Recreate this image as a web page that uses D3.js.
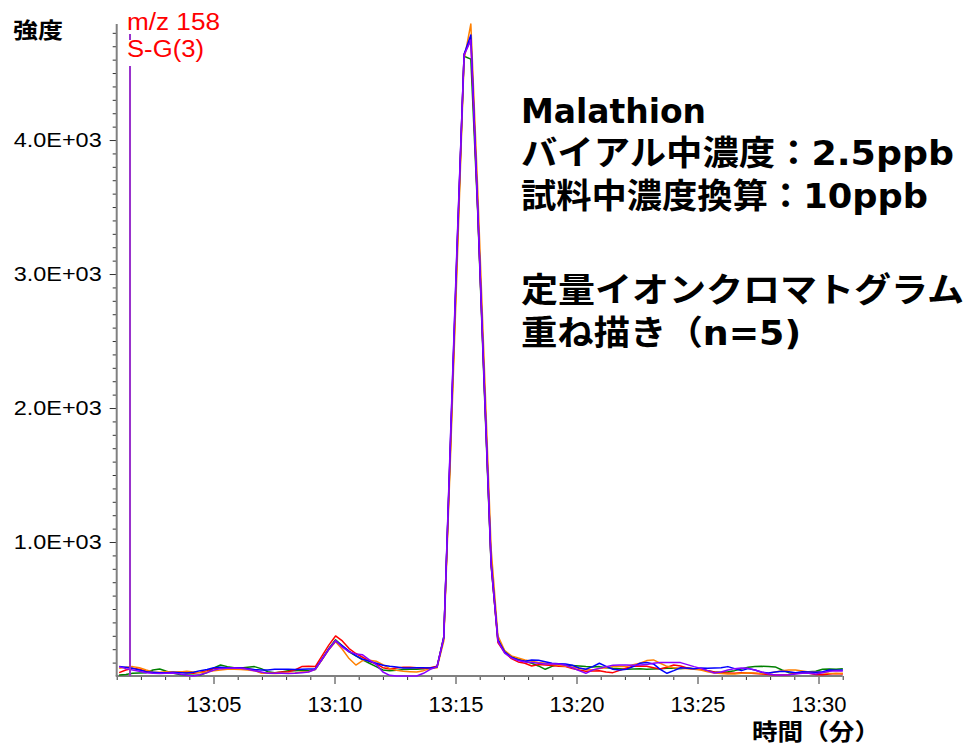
<!DOCTYPE html>
<html lang="ja">
<head>
<meta charset="utf-8">
<script src="https://cdn.jsdelivr.net/npm/d3@7"></script>
<style>
  html, body { margin: 0; padding: 0; background: #fff; }
  svg { display: block; }
</style>
</head>
<body>
<svg id="chart" width="973" height="746"></svg>
<script>
// Quantitation-ion chromatograms (m/z 158), five overlaid injections of Malathion.
// Retention time in minutes of the day (13:01 = 781), intensity in counts.
const scanStart = 781.1;      // first scan, 13:01.1
const scanInterval = 0.2795;  // minutes between scans
const timeRange = [781, 811]; // 13:01 – 13:31

const seriesNames = ["run1", "run2", "run3", "run4", "run5"];
const seriesColors = ["#008000", "#ff0000", "#ff8000", "#0000ff", "#8a00ff"];

const run1 = [ // green
  7, 12, 20, 22, 25, 45, 52, 35, 20, 12,
  8, 5, 8, 25, 60, 82, 70, 62, 60, 65,
  70, 55, 32, 25, 30, 40, 40, 42, 40, 48,
  125, 205, 270, 225, 180, 150, 120, 95, 70, 45,
  40, 42, 48, 50, 50, 55, 60, 65, 295, 1720,
  3200, 4625, 4604, 3480, 2120, 820, 275, 185, 145, 125,
  110, 95, 75, 50, 72, 85, 80, 78, 75, 70,
  68, 70, 62, 57, 55, 50, 52, 55, 50, 52,
  55, 58, 57, 55, 60, 55, 50, 40, 30, 28,
  32, 40, 52, 65, 70, 72, 70, 68, 45, 25,
  20, 25, 32, 35, 50, 52, 50, 55
];
const run2 = [ // red
  25, 45, 57, 50, 35, 25, 20, 28, 25, 30,
  25, 20, 28, 40, 57, 60, 55, 58, 62, 55,
  45, 25, 20, 22, 30, 32, 45, 70, 72, 70,
  150, 230, 299, 262, 205, 168, 140, 110, 90, 62,
  52, 60, 65, 65, 62, 55, 62, 72, 280, 1740,
  3220, 4640, 4750, 3500, 2160, 840, 250, 175, 130, 105,
  95, 75, 85, 82, 78, 72, 70, 55, 45, 35,
  38, 40, 30, 25, 42, 60, 72, 75, 72, 62,
  52, 65, 82, 75, 60, 52, 48, 40, 30, 25,
  22, 20, 25, 22, 18, 15, 12, 8, 7, 10,
  18, 22, 20, 12, 10, 15, 18, 15
];
const run3 = [ // orange
  57, 65, 70, 62, 45, 30, 28, 32, 32, 30,
  35, 30, 25, 30, 40, 45, 50, 50, 48, 45,
  40, 22, 20, 18, 20, 20, 22, 30, 32, 50,
  120, 195, 255, 200, 130, 82, 115, 118, 110, 85,
  55, 42, 35, 32, 30, 40, 55, 62, 260, 1650,
  3100, 4600, 4866, 3650, 2300, 950, 300, 190, 150, 135,
  120, 110, 100, 95, 88, 80, 72, 65, 57, 50,
  45, 55, 62, 70, 72, 70, 85, 95, 115, 120,
  95, 72, 62, 58, 55, 50, 45, 32, 22, 18,
  15, 15, 20, 25, 22, 18, 20, 30, 40, 45,
  45, 38, 30, 30, 25, 20, 18, 20
];
const run4 = [ // blue
  70, 65, 57, 45, 32, 28, 25, 25, 28, 25,
  22, 28, 40, 48, 62, 65, 62, 60, 62, 55,
  48, 45, 45, 50, 50, 50, 48, 50, 52, 55,
  125, 200, 262, 225, 185, 152, 125, 110, 95, 80,
  72, 68, 60, 60, 62, 62, 60, 68, 285, 1770,
  3250, 4640, 4784, 3520, 2170, 850, 270, 180, 140, 120,
  110, 120, 118, 107, 95, 92, 90, 80, 60, 50,
  70, 95, 72, 50, 45, 50, 70, 95, 100, 90,
  50, 20, 40, 62, 58, 55, 60, 57, 60, 62,
  70, 55, 40, 55, 45, 28, 22, 30, 35, 32,
  25, 32, 30, 28, 32, 45, 42, 45
];
const run5 = [ // violet
  70, 55, 45, 35, 25, 20, 18, 20, 22, 15,
  5, 0, 10, 25, 45, 55, 57, 60, 57, 50,
  40, 30, 20, 20, 20, 18, 20, 25, 30, 50,
  125, 200, 265, 215, 180, 165, 158, 120, 85, 30,
  5, 0, 0, 0, 0, 20, 50, 68, 290, 1800,
  3280, 4634, 4746, 3500, 2150, 830, 260, 170, 135, 115,
  105, 100, 95, 90, 92, 90, 80, 62, 40, 20,
  45, 57, 70, 80, 82, 82, 80, 82, 85, 95,
  100, 100, 100, 100, 85, 70, 57, 40, 22, 30,
  45, 55, 60, 57, 45, 30, 15, 8, 7, 10,
  15, 20, 20, 15, 25, 35, 40, 38
];
const seriesValues = [run1, run2, run3, run4, run5];

const yMajorTicks = [1000, 2000, 3000, 4000];
const xMajorTicks = [785, 790, 795, 800, 805, 810];
const markerTime = 781.55;    // event marker on the time axis

const titleLines = [
  "Malathion",
  "バイアル中濃度：2.5ppb",
  "試料中濃度換算：10ppb",
  "",
  "定量イオンクロマトグラム",
  "重ね描き（n=5)"
];

// ---- layout -------------------------------------------------------------
const svg = d3.select("#chart");
const plot = { left: 116.7, right: 842.7, top: 24, bottom: 676 };

const yMax = d3.max(seriesValues.flat());
const x = d3.scaleLinear().domain(timeRange).range([plot.left, plot.right]);
const y = d3.scaleLinear().domain([0, yMax]).range([plot.bottom, plot.top]);

const fmtTime = m => `${Math.floor(m / 60)}:${String(Math.round(m % 60)).padStart(2, "0")}`;
const fmtInt = v => `${(v / 1000).toFixed(1)}E+03`;

// ---- axes ---------------------------------------------------------------
const yMinor = d3.range(100, yMax, 100).filter(v => v % 1000 !== 0);
const xMinor = d3.range(timeRange[0], timeRange[1] + 0.001, 1).filter(m => m % 5 !== 0);

const yAxisMinor = d3.axisLeft(y).tickValues(yMinor).tickSize(4).tickFormat("");
const yAxisMajor = d3.axisLeft(y).tickValues(yMajorTicks).tickSize(7).tickPadding(8).tickFormat(fmtInt);
const xAxisMinor = d3.axisBottom(x).tickValues(xMinor).tickSize(4).tickFormat("");
const xAxisMajor = d3.axisBottom(x).tickValues(xMajorTicks).tickSize(8).tickPadding(12).tickFormat(fmtTime);

function styleAxis(g) {
  g.select(".domain").remove();
  g.selectAll(".tick line").attr("stroke", "#333").attr("stroke-width", 1);
}

svg.append("g").attr("transform", `translate(${plot.left},0)`).call(yAxisMinor).call(styleAxis);
const gy = svg.append("g").attr("transform", `translate(${plot.left},0)`).call(yAxisMajor).call(styleAxis);
gy.selectAll(".tick text")
  .attr("font-family", "'Liberation Sans', Arial, sans-serif")
  .attr("font-size", 21)
  .attr("fill", "#000")
  .attr("textLength", 88)
  .attr("lengthAdjust", "spacingAndGlyphs");

svg.append("g").attr("transform", `translate(0,${plot.bottom})`).call(xAxisMinor).call(styleAxis);
const gx = svg.append("g").attr("transform", `translate(0,${plot.bottom})`).call(xAxisMajor).call(styleAxis);
gx.selectAll(".tick text")
  .attr("font-family", "'Liberation Sans', Arial, sans-serif")
  .attr("font-size", 22)
  .attr("fill", "#000");

// axis spines
svg.append("line")
  .attr("x1", plot.left).attr("x2", plot.left)
  .attr("y1", y(yMax)).attr("y2", plot.bottom)
  .attr("stroke", "#808080").attr("stroke-width", 2);
svg.append("line")
  .attr("x1", plot.left - 1).attr("x2", x(timeRange[1]))
  .attr("y1", plot.bottom).attr("y2", plot.bottom)
  .attr("stroke", "#808080").attr("stroke-width", 2);

// ---- traces -------------------------------------------------------------
const line = d3.line()
  .x((d, i) => x(scanStart + i * scanInterval))
  .y(d => y(d));

svg.append("g")
  .selectAll("path")
  .data(seriesValues)
  .join("path")
  .attr("d", line)
  .attr("fill", "none")
  .attr("stroke", (d, i) => seriesColors[i])
  .attr("stroke-width", 1.5)
  .attr("stroke-linejoin", "round");

// event marker line
svg.append("line")
  .attr("x1", x(markerTime)).attr("x2", x(markerTime))
  .attr("y1", 34).attr("y2", plot.bottom)
  .attr("stroke", "#9932cc").attr("stroke-width", 2);

// ---- labels -------------------------------------------------------------
svg.append("text")
  .attr("x", 13).attr("y", 38)
  .attr("font-family", "'Noto Sans CJK JP', sans-serif")
  .attr("font-weight", "bold").attr("font-size", 22)
  .attr("textLength", 50).attr("lengthAdjust", "spacingAndGlyphs")
  .text("強度");

svg.append("text")
  .attr("x", 127).attr("y", 30)
  .attr("font-family", "'Liberation Sans', Arial, sans-serif")
  .attr("font-size", 23).attr("fill", "#ff0000")
  .attr("textLength", 93).attr("lengthAdjust", "spacingAndGlyphs")
  .text("m/z 158");

svg.append("rect")
  .attr("x", 125).attr("y", 40).attr("width", 82).attr("height", 26)
  .attr("fill", "#fff");
svg.append("text")
  .attr("x", 127).attr("y", 57)
  .attr("font-family", "'Liberation Sans', Arial, sans-serif")
  .attr("font-size", 23).attr("fill", "#ff0000")
  .attr("textLength", 77).attr("lengthAdjust", "spacingAndGlyphs")
  .text("S-G(3)");

svg.append("text")
  .attr("x", 752).attr("y", 740)
  .attr("font-family", "'Noto Sans CJK JP', sans-serif")
  .attr("font-weight", "bold").attr("font-size", 23)
  .attr("textLength", 128).attr("lengthAdjust", "spacingAndGlyphs")
  .text("時間（分）");

// annotation block
const titleBaselines = [123, 165, 208, 0, 302, 345];
const titleWidths = [185, 433, 407, 0, 443, 280];
svg.append("g")
  .selectAll("text")
  .data(titleLines.map((t, i) => ({ t, i })).filter(d => d.t))
  .join("text")
  .attr("x", 521)
  .attr("y", d => titleBaselines[d.i])
  .attr("font-family", "'DejaVu Sans', 'Noto Sans CJK JP', sans-serif")
  .attr("font-weight", "bold")
  .attr("font-size", 34)
  .attr("fill", "#000")
  .attr("textLength", d => titleWidths[d.i])
  .attr("lengthAdjust", "spacingAndGlyphs")
  .text(d => d.t);
</script>
</body>
</html>
